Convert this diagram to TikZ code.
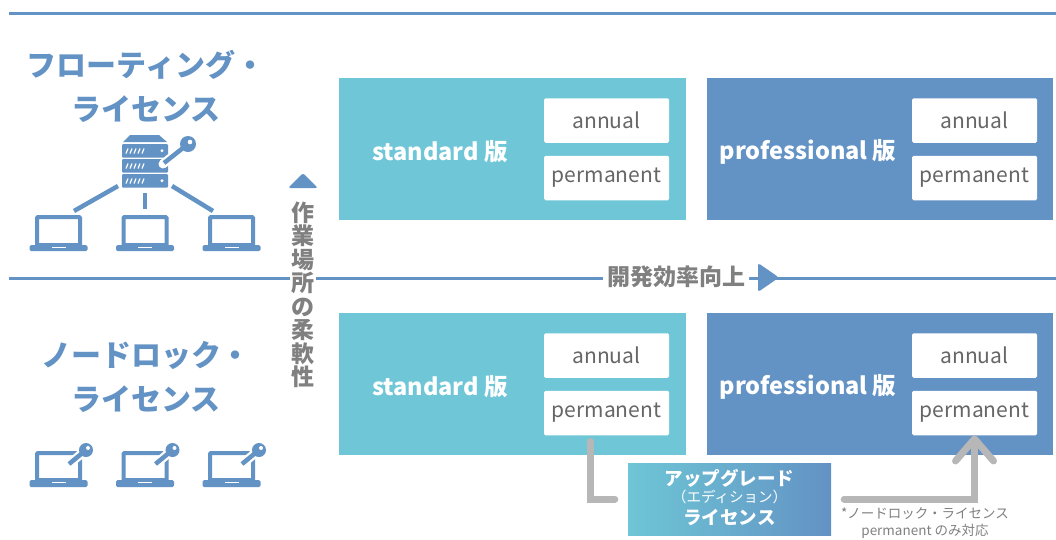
\documentclass[tikz,border=0pt]{standalone}
\usepackage{fontspec}
\setmainfont{Noto Sans CJK JP}
\usepackage{tikz}
\usetikzlibrary{arrows.meta,backgrounds}

\definecolor{stdcyan}{RGB}{110,198,214}
\definecolor{problue}{RGB}{99,146,196}
\definecolor{textgray}{RGB}{128,128,128}
\definecolor{boxgray}{RGB}{102,102,102}
\definecolor{linkgray}{RGB}{183,183,183}

\begin{document}
\begin{tikzpicture}[x=1pt,y=-1pt,
	edition/.style={minimum width=347pt,minimum height=142pt,inner sep=0pt},
	stdbox/.style={edition,fill=stdcyan},
	probox/.style={edition,fill=problue,minimum width=346pt},
	licbox/.style={fill=white,rounded corners=1.5pt,minimum width=125pt,minimum height=44.5pt,inner sep=0pt,text=boxgray,font=\fontsize{21}{21}\selectfont},
	edname/.style={text=white,font=\bfseries\fontsize{23.5}{23.5}\selectfont},
	licname/.style={text=problue,font=\bfseries\fontsize{30}{44}\selectfont,align=center},
	axislabel/.style={text=textgray,font=\bfseries\fontsize{23}{23.5}\selectfont,fill=white,inner sep=1.5pt},
	upline/.style={linkgray,line width=7pt,line cap=round}]
	\useasboundingbox (0,0) rectangle (1056,539);
	% rules
	\draw[problue,line width=3pt] (9,13.5)--(1056,13.5);
	\draw[problue,line width=3pt] (9,278)--(1056,278);
	% license titles
	\node[licname] (floating) at (146,86) {フローティング・\\ライセンス};
	\node[licname] (nodelock) at (146,377) {ノードロック・\\ライセンス};
	% server
	\fill[problue] (130,135)--(159,135)--(167,142)--(123,142)--cycle;
	\foreach \uy in {144,159,174} {
		\fill[problue,rounded corners=1pt] (122,\uy) rectangle (168,\uy+13.5);
		\foreach \s in {0,...,4}
			\draw[white,line width=1.2pt] (126+\s*4,\uy+9.5)--(128+\s*4,\uy+4.5);
		\fill[white] (162,\uy+6.75) circle (1.6);
	}
	\draw[white,line width=9pt,line cap=round] (188,144)--(163,164);
	\fill[white] (188,144) circle (10.5);
	\draw[problue,line width=4.5pt] (188,144)--(164,163);
	\fill[problue] (188,144) circle (8);
	\fill[white] (190,142) circle (2.3);
	\draw[problue,line width=4.5pt] (118,186)--(74,211);
	\draw[problue,line width=4.5pt] (145,193)--(145,209);
	\draw[problue,line width=4.5pt] (172,186)--(213,211);
	% laptops
	\foreach \cx in {58.5,145,231.5} {
		\draw[problue,line width=4pt,rounded corners=1pt] (\cx-21.5,217) rectangle (\cx+21.5,245);
		\fill[problue,rounded corners=1.5pt] (\cx-29,245) rectangle (\cx+29,251);
		\fill[white] (\cx-7,246.5) rectangle (\cx+7,247.5);
		\draw[problue,line width=4pt,rounded corners=1pt] (\cx-21.5,453) rectangle (\cx+21.5,480);
		\fill[problue,rounded corners=1.5pt] (\cx-29,480) rectangle (\cx+29,487);
		\fill[white] (\cx-7,481.5) rectangle (\cx+7,482.5);
		\draw[white,line width=9pt,line cap=round] (\cx+27.5,450)--(\cx+10,464.5);
		\fill[white] (\cx+27.5,450) circle (9.5);
		\draw[problue,line width=4.5pt] (\cx+27.5,450)--(\cx+10.5,464);
		\fill[problue] (\cx+27.5,450) circle (7);
		\fill[white] (\cx+29.5,448) circle (2);
	}
	% axes
	\fill[problue,rounded corners=2.5pt] (303,188)--(318,188)--(303,173)--(288,188)--cycle;
	\node[axislabel,align=center] (flex) at (303,295) {作\\業\\場\\所\\の\\柔\\軟\\性};
	\node[axislabel,rounded corners=10pt,inner xsep=4pt] (effic) at (676,277) {開発効率向上};
	\fill[problue,rounded corners=2.5pt] (758,277.5)--(758,263)--(779,277.5)--(758,292)--cycle;
	% editions
	\node[stdbox] (stdTop) at (512.5,149) {};
	\node[edname] (stdTopName) at (440,152) {standard 版};
	\node[licbox] (stdTopAnnual) at (606.5,120.5) {annual};
	\node[licbox] (stdTopPerm) at (606.5,178) {permanent};
	\node[probox] (proTop) at (880,149) {};
	\node[edname] (proTopName) at (808,152) {professional 版};
	\node[licbox] (proTopAnnual) at (974.5,120.5) {annual};
	\node[licbox] (proTopPerm) at (974.5,178) {permanent};
	\node[stdbox] (stdBot) at (512.5,384) {};
	\node[edname] (stdBotName) at (440,387) {standard 版};
	\node[licbox] (stdBotAnnual) at (606.5,355.5) {annual};
	\node[licbox] (stdBotPerm) at (606.5,413) {permanent};
	\node[probox] (proBot) at (880,384) {};
	\node[edname] (proBotName) at (808,387) {professional 版};
	\node[licbox] (proBotAnnual) at (974.5,355.5) {annual};
	\node[licbox] (proBotPerm) at (974.5,413) {permanent};
	% upgrade
	\node[minimum width=203pt,minimum height=72pt,left color=stdcyan,right color=problue] (upgrade) at (729.5,499) {};
	\node[text=white,font=\bfseries\fontsize{18.5}{18.5}\selectfont] (upgradeTop) at (729.5,478) {アップグレード};
	\node[text=white,font=\fontsize{14.5}{14.5}\selectfont] (upgradeMid) at (729.5,497) {（エディション）};
	\node[text=white,font=\bfseries\fontsize{18.5}{18.5}\selectfont] (upgradeBot) at (729.5,517) {ライセンス};
	\node[text=textgray,font=\fontsize{13.5}{16.5}\selectfont,align=center] (note) at (925,523) {*ノードロック・ライセンス\\permanent のみ対応};
	\draw[upline] ([xshift=-16pt,yshift=-6pt]stdBotPerm.south)|-([xshift=-13pt]upgrade.west);
	\draw[upline,-{Straight Barb[length=22pt,width=38pt,round]}] ([xshift=13pt]upgrade.east)-|(proBotPerm.south);
\end{tikzpicture}
\end{document}
